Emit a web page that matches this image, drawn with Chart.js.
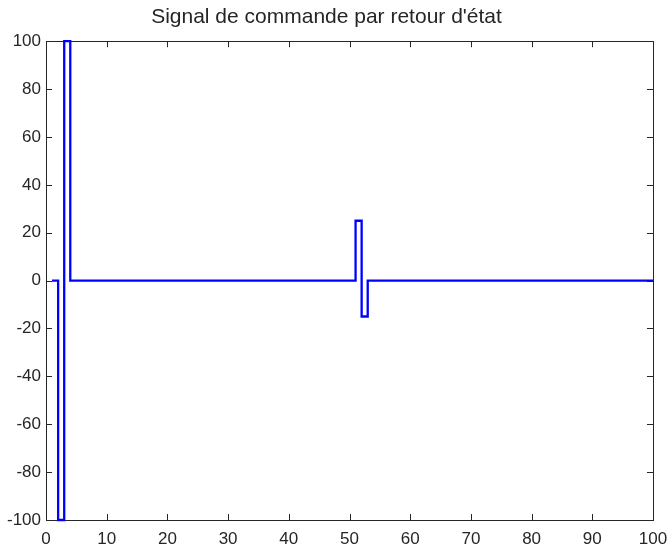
<!DOCTYPE html>
<html>
<head>
<meta charset="utf-8">
<script src="https://cdn.jsdelivr.net/npm/chart.js@4/dist/chart.umd.min.js"></script>
<style>
  html, body { margin: 0; padding: 0; background: #fff; }
  #wrap { width: 671px; height: 545px; }
</style>
</head>
<body>
<div id="wrap"><canvas id="chart"></canvas></div>
<script>
// breakpoints of the stairs signal (value held until next time)
const times = [1, 2, 3, 4, 51, 52, 53, 100];
const command = [0, -100, 100, 0, 25, -15, 0, 0];
const xTicks = [0, 10, 20, 30, 40, 50, 60, 70, 80, 90, 100];
const yTicks = [-100, -80, -60, -40, -20, 0, 20, 40, 60, 80, 100];

const axisColor = '#262626';
const fontFamily = '"Liberation Sans", Arial, sans-serif';

// MATLAB-like box with inward ticks
const boxPlugin = {
    id: 'matlabBox',
    beforeDatasetsDraw(chart) {
        const { ctx, chartArea: a, scales } = chart;
        const len = 6;
        ctx.save();
        ctx.strokeStyle = axisColor;
        ctx.lineWidth = 1;
        ctx.beginPath();
        xTicks.forEach((v) => {
            const x = Math.round(scales.x.getPixelForValue(v)) + 0.5;
            ctx.moveTo(x, a.bottom); ctx.lineTo(x, a.bottom - len);
            ctx.moveTo(x, a.top); ctx.lineTo(x, a.top + len);
        });
        yTicks.forEach((v) => {
            const y = Math.round(scales.y.getPixelForValue(v)) + 0.5;
            ctx.moveTo(a.left, y); ctx.lineTo(a.left + len, y);
            ctx.moveTo(a.right, y); ctx.lineTo(a.right - len, y);
        });
        ctx.stroke();
        ctx.strokeRect(Math.round(a.left) + 0.5, Math.round(a.top) + 0.5,
            Math.round(a.right - a.left), Math.round(a.bottom - a.top));
        ctx.restore();
    },
};

const ctx = document.getElementById('chart').getContext('2d');
new Chart(ctx, {
    type: 'line',
    data: {
        datasets: [{
            data: times.map((t, i) => ({ x: t, y: command[i] })),
            borderColor: '#0000ff',
            borderWidth: 2.3,
            pointRadius: 0,
            stepped: true,
            fill: false,
            clip: false,
        }],
    },
    options: {
        responsive: true,
        maintainAspectRatio: false,
        animation: false,
        layout: { padding: { left: 0, right: 18, top: 0, bottom: 0 } },
        plugins: {
            legend: { display: false },
            tooltip: { enabled: false },
            title: {
                display: true,
                text: "Signal de commande par retour d'état",
                color: axisColor,
                font: { family: fontFamily, size: 21, weight: 'normal' },
                padding: { top: 5, bottom: 11 },
            },
        },
        scales: {
            x: {
                type: 'linear',
                min: 0,
                max: 100,
                afterFit(scale) {
                    scale.height = 25;
                    scale.paddingLeft = 0;
                    scale.paddingRight = 0;
                },
                afterBuildTicks(scale) { scale.ticks = xTicks.map((v) => ({ value: v })); },
                grid: { display: false, drawTicks: false },
                border: { display: false },
                ticks: {
                    color: axisColor,
                    padding: 9,
                    maxRotation: 0,
                    font: { family: fontFamily, size: 17 },
                },
            },
            y: {
                type: 'linear',
                min: -100,
                max: 100,
                afterFit(scale) { scale.width = 46; },
                afterBuildTicks(scale) { scale.ticks = yTicks.map((v) => ({ value: v })); },
                grid: { display: false, drawTicks: false },
                border: { display: false },
                ticks: {
                    color: axisColor,
                    padding: 5,
                    font: { family: fontFamily, size: 17 },
                },
            },
        },
    },
    plugins: [boxPlugin],
});
</script>
</body>
</html>
